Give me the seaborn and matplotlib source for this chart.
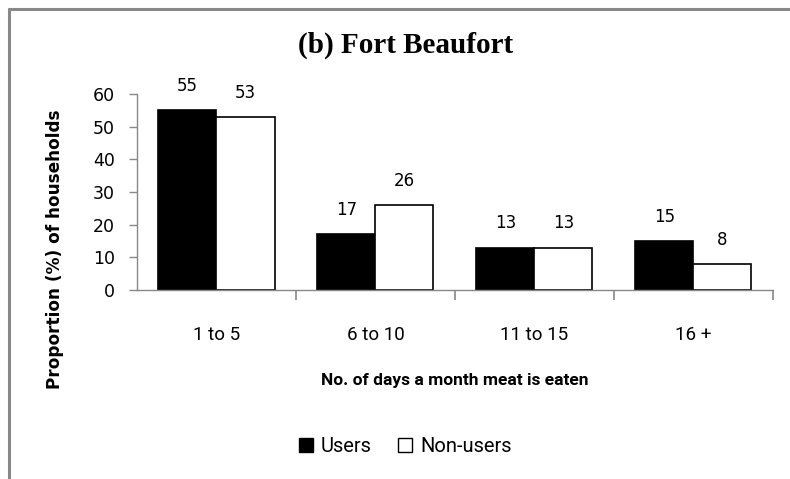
import matplotlib
matplotlib.use("Agg")
import matplotlib.pyplot as plt
import seaborn as sns
import pandas as pd
from matplotlib.lines import Line2D
from matplotlib.patches import Patch

categories = ["1 to 5", "6 to 10", "11 to 15", "16 +"]
users = [55, 17, 13, 15]
non_users = [53, 26, 13, 8]
groups = ["Users", "Non-users"]

df = pd.DataFrame({
    "days": categories * 2,
    "value": users + non_users,
    "group": [groups[0]] * len(categories) + [groups[1]] * len(categories),
})

sns.set_style("white")
plt.rcParams["text.color"] = "black"
plt.rcParams["axes.labelcolor"] = "black"
plt.rcParams["xtick.color"] = "black"
plt.rcParams["ytick.color"] = "black"

narrow = ["Roboto", "DejaVu Sans"]

fig = plt.figure(figsize=(7.9, 4.79), dpi=100)
ax = fig.add_axes([0.1734, 0.3946, 0.805, 0.4092])

sns.barplot(data=df, x="days", y="value", hue="group", order=categories,
            hue_order=groups, palette=["black", "white"], edgecolor="black",
            linewidth=1.2, width=0.73, gap=0, saturation=1, legend=False, ax=ax)

for c in ax.containers:
    ax.bar_label(c, padding=11, fontsize=12, family="DejaVu Sans")

ax.set_ylim(0, 60)
ax.set_xlim(-0.5, 3.5)
ax.set_yticks(range(0, 61, 10))
ax.tick_params(axis="y", left=True, length=6, width=1, color="#888888",
               labelcolor="black", pad=10)
for t in ax.get_yticklabels():
    t.set_family("DejaVu Sans")
    t.set_fontsize(12.5)
ax.tick_params(axis="x", which="major", length=0, pad=26, labelcolor="black")
ax.set_xticks([0.5, 1.5, 2.5, 3.5], minor=True)
ax.tick_params(axis="x", which="minor", bottom=True, length=7, width=1.2,
               color="#888888")
for t in ax.get_xticklabels():
    t.set_family(narrow)
    t.set_fontsize(13.5)

for s in ["top", "right"]:
    ax.spines[s].set_visible(False)
for s in ["left", "bottom"]:
    ax.spines[s].set_color("#888888")
    ax.spines[s].set_linewidth(1)

ax.set_xlabel("No. of days a month meat is eaten", family=narrow,
              fontsize=12.5, fontweight="bold", labelpad=21)
ax.set_ylabel("Proportion (%) of households", family="DejaVu Sans",
              fontsize=12.2, fontweight="bold")
ax.yaxis.set_label_coords(64 / 790, 1 - 249 / 479, transform=fig.transFigure)

fig.text(0.513, 0.906, "(b) Fort Beaufort", ha="center", va="center",
         family="Liberation Serif", fontweight="bold", fontsize=21)

handles = [Patch(facecolor="black", edgecolor="black"),
           Patch(facecolor="white", edgecolor="black")]
fig.legend(handles, groups, loc="center", bbox_to_anchor=(0.513, 0.067),
           ncol=2, frameon=False, handlelength=0.7, handleheight=0.7,
           handletextpad=0.4, columnspacing=1.3, prop={"family": narrow, "size": 14.5})

# grey frame on the left and top edges
fig.add_artist(Line2D([0.0108, 0.0108], [0, 0.982], transform=fig.transFigure,
                      color="#888888", linewidth=2.2))
fig.add_artist(Line2D([0.0108, 1], [0.982, 0.982], transform=fig.transFigure,
                      color="#888888", linewidth=2.2))

fig.savefig("out.png", dpi=100)
